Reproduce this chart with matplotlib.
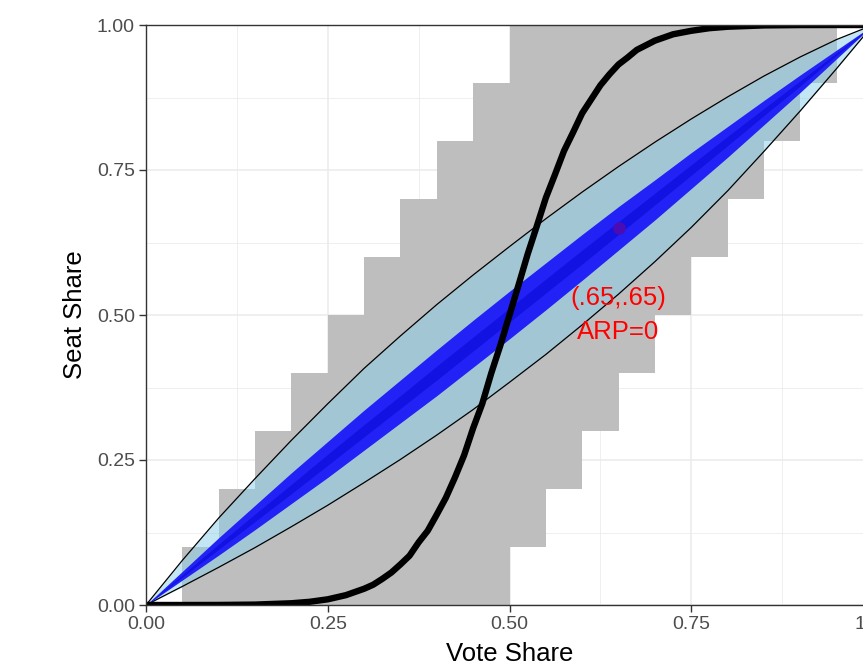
import matplotlib
matplotlib.use("Agg")
import matplotlib.pyplot as plt
import numpy as np

# ---- data ----
# gray staircase bins (left edge, bottom, top), width 0.05
bin_left = [0.05, 0.10, 0.15, 0.20, 0.25, 0.30, 0.35, 0.40, 0.45,
            0.50, 0.55, 0.60, 0.65, 0.70, 0.75, 0.80, 0.85, 0.90]
bin_bottom = [0, 0, 0, 0, 0, 0, 0, 0, 0,
              0.1, 0.2, 0.3, 0.4, 0.5, 0.6, 0.7, 0.8, 0.9]
bin_top = [0.1, 0.2, 0.3, 0.4, 0.5, 0.6, 0.7, 0.8, 0.9,
           1, 1, 1, 1, 1, 1, 1, 1, 1]

# vote share grid for the bands
vote = [0, 0.05, 0.10, 0.15, 0.20, 0.25, 0.30, 0.35, 0.40, 0.45, 0.50,
        0.55, 0.60, 0.65, 0.70, 0.75, 0.80, 0.85, 0.90, 0.95, 1.0]
lens_upper = [0, 0.077, 0.150, 0.218, 0.284, 0.347, 0.408, 0.464, 0.518, 0.569, 0.618,
              0.666, 0.712, 0.756, 0.798, 0.838, 0.876, 0.912, 0.945, 0.975, 1]
lens_lower = [0, 0.032, 0.065, 0.099, 0.135, 0.172, 0.211, 0.251, 0.293, 0.337, 0.384,
              0.432, 0.483, 0.536, 0.592, 0.651, 0.714, 0.782, 0.852, 0.925, 1]
band_upper = [0, 0.058, 0.116, 0.172, 0.228, 0.282, 0.336, 0.388, 0.440, 0.491, 0.541,
              0.590, 0.639, 0.687, 0.733, 0.780, 0.825, 0.870, 0.914, 0.957, 1]
band_lower = [0, 0.043, 0.086, 0.130, 0.175, 0.220, 0.267, 0.314, 0.361, 0.410, 0.459,
              0.509, 0.560, 0.612, 0.664, 0.718, 0.772, 0.828, 0.884, 0.942, 1]
core_upper = [0, 0.052, 0.105, 0.157, 0.208, 0.260, 0.311, 0.361, 0.412, 0.462, 0.512,
              0.562, 0.612, 0.661, 0.710, 0.759, 0.808, 0.856, 0.904, 0.952, 1]
core_lower = [0, 0.048, 0.096, 0.144, 0.192, 0.241, 0.290, 0.339, 0.388, 0.438, 0.488,
              0.538, 0.588, 0.639, 0.690, 0.741, 0.792, 0.844, 0.895, 0.948, 1]

# black seats-votes curve
curve_vote = [0, 0.05, 0.10, 0.15, 0.20, 0.225, 0.25, 0.275, 0.30, 0.3125, 0.325, 0.3375,
              0.35, 0.3625, 0.375, 0.3875, 0.40, 0.4125, 0.425, 0.4375, 0.45, 0.4625,
              0.475, 0.4875, 0.50, 0.5125, 0.525, 0.5375, 0.55, 0.5625, 0.575, 0.5875,
              0.60, 0.6125, 0.625, 0.6375, 0.65, 0.6625, 0.675, 0.6875, 0.70, 0.725,
              0.75, 0.775, 0.80, 0.85, 0.90, 0.95, 1.0]
curve_seat = [0, 0.0000, 0.0001, 0.0007, 0.003, 0.0055, 0.0098, 0.017, 0.028, 0.035, 0.045, 0.056,
              0.070, 0.085, 0.108, 0.128, 0.156, 0.185, 0.220, 0.258, 0.305, 0.347,
              0.400, 0.448, 0.500, 0.552, 0.605, 0.653, 0.702, 0.742, 0.783, 0.815,
              0.848, 0.872, 0.896, 0.915, 0.932, 0.944, 0.957, 0.965, 0.973, 0.984,
              0.990, 0.9945, 0.997, 0.9993, 0.9999, 1.0, 1.0]

point_x, point_y = 0.65, 0.65
labels = ["(.65,.65)", "ARP=0"]
ticks = [0, 0.25, 0.5, 0.75, 1.0]
tick_labels = ["0.00", "0.25", "0.50", "0.75", "1.00"]
minor_ticks = [0.125, 0.375, 0.625, 0.875]

plt.rcParams['font.family'] = ['Liberation Sans', 'DejaVu Sans']

W, H = 863, 671
fig = plt.figure(figsize=(W / 100, H / 100), dpi=100)
ax = fig.add_axes([146 / W, (H - 605) / H, 727 / W, 580 / H])

ax.set_xlim(0, 1)
ax.set_ylim(0, 1)
ax.set_axisbelow(True)

# grid
for t in ticks:
    ax.axvline(t, color='#EBEBEB', lw=1.1, zorder=0)
    ax.axhline(t, color='#EBEBEB', lw=1.1, zorder=0)
for t in minor_ticks:
    ax.axvline(t, color='#EBEBEB', lw=0.55, zorder=0)
    ax.axhline(t, color='#EBEBEB', lw=0.55, zorder=0)

# gray staircase
heights = [t - b for t, b in zip(bin_top, bin_bottom)]
ax.bar(bin_left, heights, width=0.05, bottom=bin_bottom, align='edge',
       color='#BEBEBE', edgecolor='none', linewidth=0, zorder=1)

# lens
ax.fill_between(vote, lens_lower, lens_upper, color='skyblue', alpha=0.5,
                linewidth=0, zorder=2)
ax.plot(vote, lens_upper, color='black', lw=0.9, zorder=3)
ax.plot(vote, lens_lower, color='black', lw=0.9, zorder=3)

# inner bands
ax.fill_between(vote, band_lower, band_upper, color='#2222F6', linewidth=0, zorder=4)
ax.fill_between(vote, core_lower, core_upper, color='#1212E2', linewidth=0, zorder=5)

# point
ax.plot([point_x], [point_y], 'o', color='#4C0CB4', ms=9, mec='none', zorder=6)

# black curve
ax.plot(curve_vote, curve_seat, color='black', lw=4.6, solid_capstyle='butt',
        solid_joinstyle='round', zorder=7)

# annotations
ax.text(0.65, 0.53, labels[0], color='red', fontsize=18.5, ha='center', va='center', zorder=8)
ax.text(0.65, 0.47, labels[1], color='red', fontsize=18.5, ha='center', va='center', zorder=8)

# axes styling
ax.set_xticks(ticks)
ax.set_xticklabels(tick_labels)
ax.set_yticks(ticks)
ax.set_yticklabels(tick_labels)
ax.tick_params(axis='both', length=5, width=1.0, color='#333333', labelcolor='#4D4D4D',
               labelsize=14, pad=3)
for s in ax.spines.values():
    s.set_color('#333333')
    s.set_linewidth(1.0)
    s.set_zorder(9)

ax.set_xlabel('Vote Share', fontsize=18.5, color='black')
ax.set_ylabel('Seat Share', fontsize=18.5, color='black')
ax.xaxis.set_label_coords(0.5, -0.064)
ax.yaxis.set_label_coords(-0.081, 0.5)

fig.savefig('out.png', dpi=100)
